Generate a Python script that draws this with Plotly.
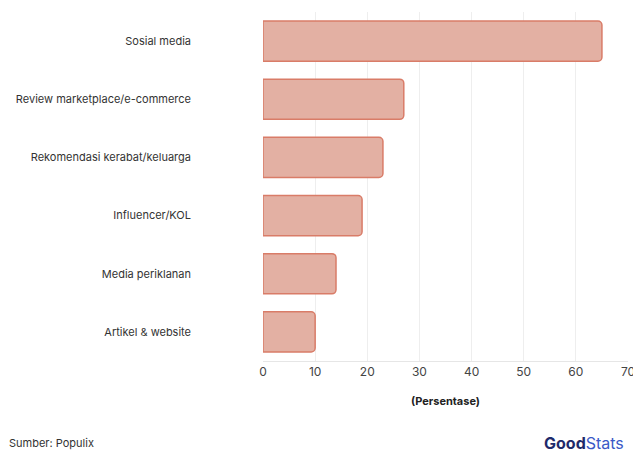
import plotly.graph_objects as go

categories = ["Sosial media", "Review marketplace/e-commerce", "Rekomendasi kerabat/keluarga",
              "Influencer/KOL", "Media periklanan", "Artikel & website"]
values = [65, 27, 23, 19, 14, 10]
x_ticks = [0, 10, 20, 30, 40, 50, 60, 70]

fig = go.Figure(go.Bar(
    x=values[::-1], y=categories[::-1], orientation="h",
    marker=dict(color="#e3b0a3", line=dict(color="#d97c68", width=1.5), cornerradius=4),
    width=0.69, hoverinfo="skip",
))

font = "Inter, Lato, sans-serif"
fig.update_layout(
    width=633, height=450,
    margin=dict(l=263, r=5, t=12, b=89),
    plot_bgcolor="white", paper_bgcolor="white",
    font=dict(family=font, size=11, color="#333"),
    showlegend=False,
)
fig.update_xaxes(range=[0, 70], tickvals=x_ticks, showgrid=True, gridcolor="#eeeeee",
                 zeroline=False, showline=True, linecolor="#e6e6e6", automargin=False,
                 ticklabeloverflow="allow",
                 tickfont=dict(size=12, color="#444"),
                 title=dict(text="<b>(Persentase)</b>", font=dict(size=11, color="#222"), standoff=18))
fig.update_yaxes(showgrid=False, showline=False, ticks="", ticklabelstandoff=71, automargin=False,
                 tickfont=dict(size=11, color="#333"))

fig.add_annotation(text="Sumber: Populix", xref="paper", yref="paper",
                   x=-(263 - 7) / 365, xanchor="left", y=-(443 - 361) / 349, yanchor="middle",
                   showarrow=False, font=dict(size=11, color="#333"))
fig.add_annotation(text="<b><span style='color:#1f2a6b'>Good</span></b><span style='color:#3a59c7'>Stats</span>",
                   xref="paper", yref="paper", x=1.0, xanchor="right", xshift=-2, y=-(443 - 361) / 349,
                   yanchor="middle", showarrow=False, font=dict(size=16, family=font))

fig.write_html("out.html", config={"displayModeBar": False},
               post_script="document.body.style.margin='0';document.body.style.overflow='hidden';")
